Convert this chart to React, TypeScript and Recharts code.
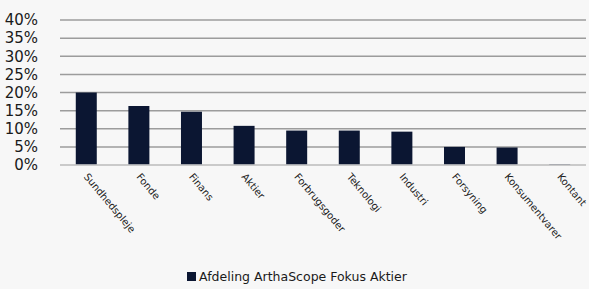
import React from 'react';
import { BarChart, Bar, XAxis, YAxis, CartesianGrid, Legend } from 'recharts';

const categories = [
  'Sundhedspleje',
  'Fonde',
  'Finans',
  'Aktier',
  'Forbrugsgoder',
  'Teknologi',
  'Industri',
  'Forsyning',
  'Konsumentvarer',
  'Kontant',
];
const weights = [20.0, 16.3, 14.7, 10.8, 9.5, 9.5, 9.2, 5.0, 4.8, 0.2];
const yTicks = [0, 5, 10, 15, 20, 25, 30, 35, 40];
const seriesName = 'Afdeling ArthaScope Fokus Aktier';

const data = categories.map((name, i) => ({ name, value: weights[i] }));

const FONT = '"DejaVu Sans", Verdana, sans-serif';
const BAR_COLOR = '#0b1632';

// rotated category labels, starting at the bar centre
const SlantTick = (props: any) => {
  const { x, y, payload } = props;
  return (
    <g transform={`translate(${x - 3},${y + 12})`}>
      <text
        transform="rotate(50)"
        textAnchor="start"
        fontSize={10}
        fontFamily={FONT}
        fill="#1a1a1a"
      >
        {payload.value}
      </text>
    </g>
  );
};

const LegendBox = () => (
  <div
    style={{
      display: 'flex',
      justifyContent: 'center',
      alignItems: 'center',
      height: 28,
      fontFamily: FONT,
      fontSize: 12.5,
      color: '#1a1a1a',
      paddingLeft: 8,
      paddingTop: 1,
    }}
  >
    <span
      style={{ width: 9, height: 9, background: BAR_COLOR, marginRight: 3, display: 'inline-block' }}
    />
    <span>{seriesName}</span>
  </div>
);

export default function App() {
  return (
    <div style={{ position: 'absolute', left: 0, top: 0, width: 589, height: 289, background: '#f7f7f7' }}>
      <BarChart
        width={589}
        height={289}
        data={data}
        margin={{ top: 20, right: 3, left: 0, bottom: 0 }}
        barCategoryGap="30%"
      >
        <CartesianGrid vertical={false} stroke="#9c9c9c" strokeWidth={1.5} />
        <XAxis
          dataKey="name"
          height={96}
          interval={0}
          tickLine={false}
          tickSize={0}
          tickMargin={0}
          axisLine={{ stroke: '#d2d2d2', strokeWidth: 1.5 }}
          tick={<SlantTick />}
        />
        <YAxis
          width={60}
          domain={[0, 40]}
          ticks={yTicks}
          interval={0}
          tickLine={false}
          axisLine={false}
          tickMargin={16}
          tickFormatter={(v: number) => `${v}%`}
          tick={{ fontSize: 15, fontFamily: FONT, fill: '#1a1a1a' }}
        />
        <Legend verticalAlign="bottom" height={28} content={<LegendBox />} />
        <Bar dataKey="value" name={seriesName} fill={BAR_COLOR} isAnimationActive={false} />
      </BarChart>
    </div>
  );
}
